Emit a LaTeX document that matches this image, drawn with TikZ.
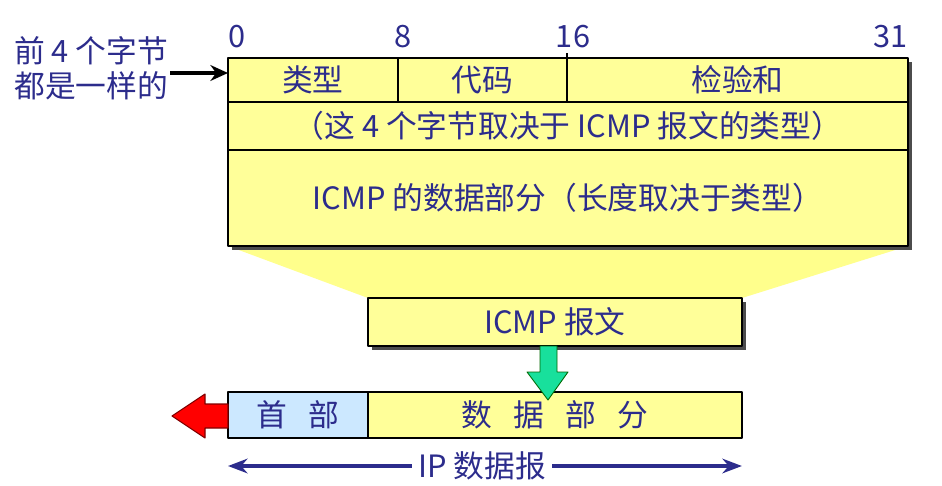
\documentclass[tikz,border=0pt]{standalone}
\usepackage{fontspec}
\setmainfont{Noto Sans CJK SC}
\usetikzlibrary{arrows.meta}
\definecolor{txtblue}{RGB}{44,44,140}
\definecolor{boxyellow}{RGB}{255,255,153}
\definecolor{fanyellow}{RGB}{255,255,140}
\definecolor{hdrblue}{RGB}{204,232,255}
\definecolor{arrgreen}{RGB}{24,224,156}
\begin{document}
\begin{tikzpicture}[x=0.02cm, y=-0.02cm, font=\fontsize{17.5}{20}\selectfont, text=txtblue, line join=round, >=Stealth,
	cell/.style={draw=black, line width=0.8pt, fill=boxyellow, inner sep=0pt, outer sep=0pt, anchor=north west},
	shade/.style={fill=black!70}]
	\useasboundingbox (0,0) rectangle (942,486);
	\fill[fanyellow] (228,246) -- (908,246) -- (742,298) -- (368,298) -- cycle;
	\fill[shade] (232,62) rectangle (912,250);
	\fill[shade] (372,302) rectangle (746,350);
	\node[cell, minimum width=3.4cm, minimum height=0.88cm] (typ) at (228,58) {类型};
	\node[cell, minimum width=3.38cm, minimum height=0.88cm] (code) at (typ.north east) {代码};
	\node[cell, minimum width=6.82cm, minimum height=0.88cm] (chk) at (code.north east) {检验和};
	\node[cell, minimum width=13.6cm, minimum height=0.96cm] (rest) at (typ.south west) {（这 4 个字节取决于 ICMP 报文的类型）};
	\node[cell, minimum width=13.6cm, minimum height=1.92cm] (body) at (rest.south west) {ICMP 的数据部分（长度取决于类型）};
	\draw[line width=0.8pt] (code.north east) -- ++(0,-5);
	\node[anchor=base west, inner sep=0pt] (b0) at (228,48) {0};
	\node[anchor=base, inner sep=0pt] (b8) at (403,48) {8};
	\node[anchor=base, inner sep=0pt] (b16) at (573,48) {16};
	\node[anchor=base east, inner sep=0pt] (b31) at (908,48) {31};
	\node[align=left, anchor=north west, inner sep=0pt] (lbl) at (14,36) {前 4 个字节\\都是一样的};
	\coordinate (a0) at (170,73);
	\draw[-{Stealth[length=10pt,width=9pt]}, line width=2.4pt] (a0) -- (a0 -| typ.west);
	\node[cell, minimum width=7.48cm, minimum height=0.96cm] (icmp) at (368,298) {ICMP 报文};
	\node[cell, fill=hdrblue, minimum width=2.8cm, minimum height=0.92cm] (hdr) at (228,392) {首\hspace{.7em}部};
	\node[cell, minimum width=7.48cm, minimum height=0.92cm] (pay) at (hdr.north east) {数\hspace{.7em}据\hspace{.7em}部\hspace{.7em}分};
	\filldraw[fill=arrgreen, draw=black!60!green, line width=0.5pt] (540,346) -- (557,346) -- (557,372) -- (568,372) -- (548,400) -- (527,372) -- (540,372) -- cycle;
	\filldraw[fill=red, draw=red!50!black, line width=0.6pt] (228,404) -- (205,404) -- (205,394) -- (172,416) -- (205,438) -- (205,428) -- (228,428) -- cycle;
	\node (ip) at (482,466) {IP 数据报};
	\draw[<-, draw=txtblue, line width=1.8pt] (hdr.west |- ip) -- (ip.west);
	\draw[->, draw=txtblue, line width=1.8pt] (ip.east) -- (pay.east |- ip);
\end{tikzpicture}
\end{document}
